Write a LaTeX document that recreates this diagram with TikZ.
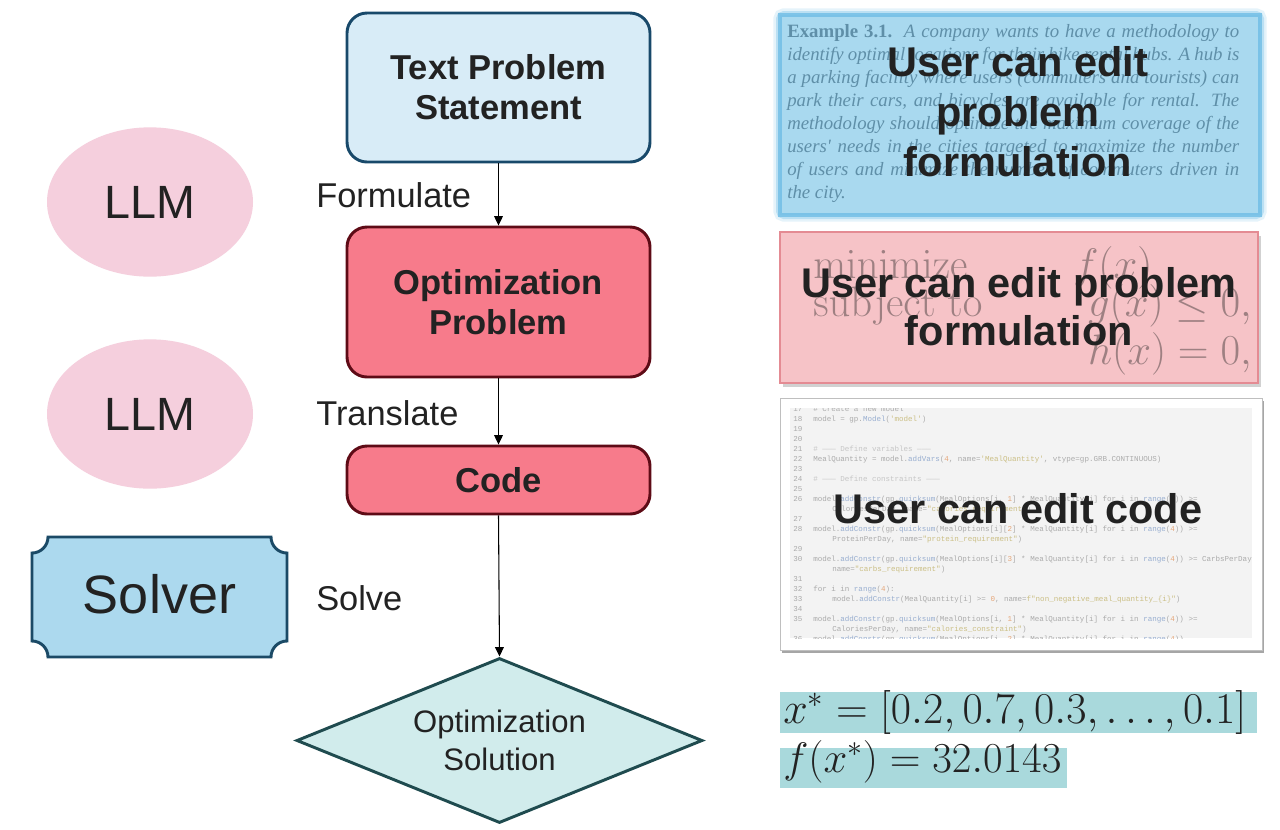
\RequirePackage{fix-cm}
\documentclass[tikz,border=0pt]{standalone}
\usepackage[no-math]{fontspec}
\setmainfont{Liberation Sans}
\setmonofont{Liberation Mono}
\newfontfamily\tnr{Liberation Serif}
\usetikzlibrary{shapes.geometric,arrows.meta}
\definecolor{txt}{HTML}{222222}
\definecolor{tpsfill}{HTML}{D8ECF7}
\definecolor{tpsline}{HTML}{18496A}
\definecolor{redfill}{HTML}{F77B8B}
\definecolor{redline}{HTML}{5E0B16}
\definecolor{llmfill}{HTML}{F5CFDD}
\definecolor{solfill}{HTML}{ACD9EE}
\definecolor{solline}{HTML}{1B4A66}
\definecolor{diafill}{HTML}{D1ECEC}
\definecolor{dialine}{HTML}{1F4B4F}
\definecolor{ponefill}{HTML}{A9D9EF}
\definecolor{ponetext}{HTML}{5F8FA8}
\definecolor{glow}{HTML}{6FBDE6}
\definecolor{ptwofill}{HTML}{F6C3C7}
\definecolor{ptwoline}{HTML}{E48B93}
\definecolor{ptwomath}{HTML}{9E8082}
\definecolor{codebg}{HTML}{F3F3F3}
\definecolor{codetxt}{HTML}{ABABAB}
\definecolor{codecom}{HTML}{C6C6C6}
\definecolor{codestr}{HTML}{CBBF85}
\definecolor{codenum}{HTML}{E6A77A}
\definecolor{codefun}{HTML}{98AED0}
\definecolor{solbg}{HTML}{A9D9DC}
\newcommand{\kS}[1]{\textcolor{codestr}{#1}}
\newcommand{\kN}[1]{\textcolor{codenum}{#1}}
\newcommand{\kF}[1]{\textcolor{codefun}{#1}}
\tikzset{
  mainbox/.style={rounded corners=15pt, line width=2.2pt, minimum width=227.25pt,
    align=center, text=txt, font=\bfseries\fontsize{25.9pt}{30pt}\selectfont},
  tpsbox/.style={mainbox, fill=tpsfill, draw=tpsline},
  redbox/.style={mainbox, fill=redfill, draw=redline},
  llm/.style={ellipse, fill=llmfill, minimum width=154.5pt, minimum height=112pt,
    text=txt, font=\fontsize{35pt}{40pt}\selectfont},
  steplabel/.style={anchor=west, inner sep=0pt, text=txt, font=\fontsize{25.8pt}{30pt}\selectfont},
  arr/.style={-{Triangle[length=7pt,width=6.5pt]}, line width=0.8pt, draw=black},
  overlay/.style={anchor=base, inner sep=0pt, text=txt, font=\bfseries\fontsize{31.1pt}{37pt}\selectfont},
  pone/.style={anchor=base west, inner sep=0pt, text=ponetext, font=\tnr\fontsize{14.1pt}{17pt}\selectfont},
  mathp/.style={inner sep=0pt, text=ptwomath, font=\fontsize{32pt}{38pt}\selectfont},
  codeln/.style={anchor=base west, inner sep=0pt, text=codetxt, font=\ttfamily\fontsize{5.65pt}{6.5pt}\selectfont},
  solmath/.style={anchor=base west, inner sep=0pt, text=txt, font=\fontsize{33pt}{38pt}\selectfont}
}
\begin{document}
\begin{tikzpicture}[x=0.75pt,y=-0.75pt]
\useasboundingbox (0,0) rectangle (1280,829);
\fill[white] (0,0) rectangle (1280,829);

% ---------- flow chart ----------
\node[tpsbox, minimum height=111.75pt] (tps) at (498.5,87.5) {Text Problem\\Statement};
\node[redbox, minimum height=112.5pt] (opt) at (498.5,302) {Optimization\\Problem};
\node[redbox, minimum height=51pt] (code) at (498.5,480) {Code};
\node[diamond, shape aspect=2.46, inner sep=0pt, minimum width=304.5pt, minimum height=123.75pt,
  fill=diafill, draw=dialine, line width=2.2pt, align=center, text=txt,
  font=\fontsize{23.3pt}{28.5pt}\selectfont] (sol) at (499.5,740.5) {Optimization\\Solution};

\draw[arr] (tps.south) -- (opt.north);
\draw[arr] (opt.south) -- (code.north);
\draw[arr] (code.south) -- (sol.north);

\node[steplabel] (lform) at (316,195) {Formulate};
\node[steplabel] (ltrans) at (316,413) {Translate};
\node[steplabel] (lsolve) at (316,598) {Solve};

\node[llm] (llm1) at (150,202) {LLM};
\node[llm] (llm2) at (150,414) {LLM};

% solver shape with concave corners
\draw[fill=solfill, draw=solline, line width=2.2pt]
  (48,537) -- (271,537) .. controls (271,545.8) and (278.2,553) .. (287,553)
  -- (287,641) .. controls (278.2,641) and (271,648.2) .. (271,657)
  -- (48,657) .. controls (48,648.2) and (40.8,641) .. (32,641)
  -- (32,553) .. controls (40.8,553) and (48,545.8) .. (48,537) -- cycle;
\node[text=txt, font=\fontsize{40.5pt}{45pt}\selectfont] (solver) at (159.5,594) {Solver};

% ---------- panel 1 ----------
\draw[line width=10pt, draw=glow, opacity=0.18, rounded corners=3pt] (780,15) rectangle (1260,215);
\draw[line width=6pt, draw=glow, opacity=0.35, rounded corners=3pt] (780,15) rectangle (1260,215);
\fill[ponefill] (780,15) rectangle (1260,215);
\draw[line width=2.5pt, draw=glow, opacity=0.8] (780,15) rectangle (1260,215);
\node[pone] (p1a) at (787,37) {\makebox[339pt][s]{\textbf{Example 3.1.}\ \ \textit{A company wants to have a methodology to}}};
\node[pone] (p1b) at (787,60) {\makebox[339pt][s]{\textit{identify optimal locations for their bike rental hubs. A hub is}}};
\node[pone] (p1c) at (787,83) {\makebox[339pt][s]{\textit{a parking facility where users (commuters and tourists) can}}};
\node[pone] (p1d) at (787,106) {\makebox[339pt][s]{\textit{park their cars, and bicycles are available for rental. The}}};
\node[pone] (p1e) at (787,129) {\makebox[339pt][s]{\textit{methodology should optimize the maximum coverage of the}}};
\node[pone] (p1f) at (787,152) {\makebox[339pt][s]{\textit{users' needs in the cities targeted to maximize the number}}};
\node[pone] (p1g) at (787,175) {\makebox[339pt][s]{\textit{of users and minimize the number of commuters driven in}}};
\node[pone] (p1h) at (787,198) {\textit{the city.}};
\node[overlay] (o1a) at (1018,76) {User can edit};
\node[overlay] (o1b) at (1018,126) {problem};
\node[overlay] (o1c) at (1018,176) {formulation};

% ---------- panel 2 ----------
\fill[black, opacity=0.18] (783,236) rectangle (1261,387);
\fill[ptwofill] (780,232) rectangle (1258,383);
\draw[ptwoline, line width=1.5pt] (780,232) rectangle (1258,383);
\node[mathp, anchor=base west] (mn) at (813,278) {$\mathrm{minimize}$};
\node[mathp, anchor=base west] (fx) at (1073,278) {$f(x)$};
\node[mathp, anchor=base west] (st) at (813,316) {$\mathrm{subject\ to}$};
\node[mathp, anchor=base east] (gx) at (1252,316) {$g(x) \le 0,$};
\node[mathp, anchor=base east] (hx) at (1252,364) {$h(x) = 0,$};
\node[overlay] (o2a) at (1019,297) {User can edit problem};
\node[overlay] (o2b) at (1019,345) {formulation};

% ---------- panel 3 ----------
\fill[black, opacity=0.35] (782,401) rectangle (1264,653);
\fill[white] (780,398) rectangle (1262,650);
\draw[black!25, line width=0.6pt] (780,398) rectangle (1262,650);
\fill[codebg] (790,408) rectangle (1252,638);
\begin{scope}
\clip (790,408) rectangle (1252,638);
\node[codeln] (n17) at (793,411) {17};
\node[codeln] (c17) at (813,411) {\# Create a new model};
\node[codeln] (n18) at (793,421) {18};
\node[codeln] (c18) at (813,421) {model = gp.\kF{Model}(\kS{'model'})};
\node[codeln] (n19) at (793,431) {19};
\node[codeln] (n20) at (793,441) {20};
\node[codeln] (n21) at (793,451) {21};
\node[codeln, text=codecom] (c21) at (813,451) {\# ——— Define variables ———};
\node[codeln] (n22) at (793,461) {22};
\node[codeln] (c22) at (813,461) {MealQuantity = model.\kF{addVars}(\kN{4}, name=\kS{'MealQuantity'}, vtype=gp.GRB.CONTINUOUS)};
\node[codeln] (n23) at (793,471) {23};
\node[codeln] (n24) at (793,481) {24};
\node[codeln, text=codecom] (c24) at (813,481) {\# ——— Define constraints ———};
\node[codeln] (n25) at (793,491) {25};
\node[codeln] (n26) at (793,501) {26};
\node[codeln] (c26) at (813,501) {model.\kF{addConstr}(gp.\kF{quicksum}(MealOptions[i, \kN{1}] * MealQuantity[i] for i in \kF{range}(\kN{4})) >=};
\node[codeln] (c26b) at (832,511) {CaloriesPerDay, name=\kS{"calories\_requirement"})};
\node[codeln] (n27) at (793,521) {27};
\node[codeln] (n28) at (793,531) {28};
\node[codeln] (c28) at (813,531) {model.\kF{addConstr}(gp.\kF{quicksum}(MealOptions[i][\kN{2}] * MealQuantity[i] for i in \kF{range}(\kN{4})) >=};
\node[codeln] (c28b) at (832,541) {ProteinPerDay, name=\kS{"protein\_requirement"})};
\node[codeln] (n29) at (793,551) {29};
\node[codeln] (n30) at (793,561) {30};
\node[codeln] (c30) at (813,561) {model.\kF{addConstr}(gp.\kF{quicksum}(MealOptions[i][\kN{3}] * MealQuantity[i] for i in \kF{range}(\kN{4})) >= CarbsPerDay};
\node[codeln] (c30b) at (832,571) {name=\kS{"carbs\_requirement"})};
\node[codeln] (n31) at (793,581) {31};
\node[codeln] (n32) at (793,591) {32};
\node[codeln] (c32) at (813,591) {for i in \kF{range}(\kN{4}):};
\node[codeln] (n33) at (793,601) {33};
\node[codeln] (c33) at (832,601) {model.\kF{addConstr}(MealQuantity[i] >= \kN{0}, name=\kS{f"non\_negative\_meal\_quantity\_\{i\}"})};
\node[codeln] (n34) at (793,611) {34};
\node[codeln] (n35) at (793,621) {35};
\node[codeln] (c35) at (813,621) {model.\kF{addConstr}(gp.\kF{quicksum}(MealOptions[i, \kN{1}] * MealQuantity[i] for i in \kF{range}(\kN{4})) >=};
\node[codeln] (c35b) at (832,631) {CaloriesPerDay, name=\kS{"calories\_constraint"})};
\node[codeln] (n36) at (793,641) {36};
\node[codeln] (c36) at (813,641) {model.\kF{addConstr}(gp.\kF{quicksum}(MealOptions[i, \kN{2}] * MealQuantity[i] for i in \kF{range}(\kN{4}))};
\end{scope}
\node[overlay] (o3) at (1018,523) {User can edit code};

% ---------- solution ----------
\fill[solbg] (780,692) rectangle (1257,733);
\fill[solbg] (780,748) rectangle (1067,788);
\node[solmath] (xs) at (783,723) {$x^* = [0.2, 0.7, 0.3, \ldots, 0.1]$};
\node[solmath, font=\fontsize{32pt}{37pt}\selectfont] (fs) at (783,772) {$f(x^*) = 32.0143$};
\end{tikzpicture}
\end{document}
